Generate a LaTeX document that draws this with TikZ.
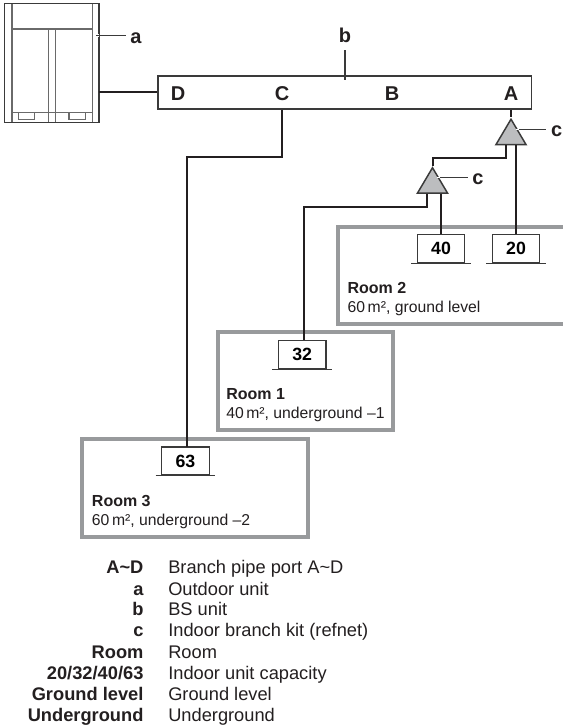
\documentclass[tikz,border=0pt]{standalone}
\usepackage{fontspec}
\setmainfont{Liberation Sans}
\usetikzlibrary{shapes.geometric}
\definecolor{ink}{HTML}{231F20}
\definecolor{edge}{HTML}{3A3A3A}
\definecolor{roomgray}{HTML}{989A9C}
\definecolor{kitgray}{HTML}{BCBDBF}
\definecolor{unitgray}{HTML}{6A6A6A}
\tikzset{
  x=0.75pt,y=-0.75pt,
  pipe/.style={draw=ink,line width=1.5pt},
  room/.style={draw=roomgray,line width=3pt},
  iu/.style={draw=edge,fill=white,line width=0.9pt,minimum width=35.6pt,minimum height=21pt,inner sep=0pt,font=\bfseries\fontsize{13.3}{15}\selectfont},
  base/.style={draw=edge,line width=0.9pt},
  port/.style={anchor=base,inner sep=0pt,font=\bfseries\fontsize{15}{18}\selectfont,text=ink},
  tag/.style={anchor=base,inner sep=0pt,font=\bfseries\fontsize{15}{18}\selectfont,text=ink},
  kit/.style={isosceles triangle,isosceles triangle stretches=true,shape border rotate=90,minimum height=19pt,minimum width=22.5pt,inner sep=0pt,draw=edge,fill=kitgray,line width=1.1pt},
  leader/.style={draw=edge,line width=0.9pt},
  halo/.style={draw=white,line width=2.2pt},
  roomhead/.style={anchor=base west,inner sep=0pt,font=\bfseries\fontsize{12}{14}\selectfont,text=ink},
  roomtext/.style={anchor=base west,inner sep=0pt,font=\fontsize{11.8}{14}\selectfont,text=ink},
  legkey/.style={anchor=base east,inner sep=0pt,font=\bfseries\fontsize{13.7}{16}\selectfont,text=ink},
  legval/.style={anchor=base west,inner sep=0pt,font=\fontsize{13.7}{16}\selectfont,text=ink},
  oucase/.style={draw=edge,line width=1.1pt},
  ouline/.style={draw=unitgray,line width=0.9pt},
}
\begin{document}
\begin{tikzpicture}
\path[use as bounding box,fill=white] (0,0) rectangle (562,728);
% rooms
\draw[room] (563,226.6) -- (338,226.6) -- (338,324) -- (563,324);
\draw[room] (217.5,332) rectangle (392.7,430);
\draw[room] (81.5,438.5) rectangle (308,536.7);
% outdoor unit
\node[draw=none,inner sep=0pt,minimum width=70.3pt,minimum height=88.7pt] (ou) at (51.85,62.85) {};
\draw[ouline] (12,3.7) -- (12,122) (92.3,3.7) -- (92.3,122) (12,29) -- (92.3,29)
  (48.7,29) -- (48.7,122) (55.3,29) -- (55.3,122) (12,112.3) -- (92.3,112.3)
  (18.3,112.3) rectangle (34.7,119.3) (69,112.3) rectangle (85.7,119.3);
\draw[oucase] (ou.south west) rectangle (ou.north east);
% BS unit
\node[draw=edge,fill=white,line width=1.1pt,inner sep=0pt,minimum width=280.1pt,minimum height=24.9pt] (bs) at (344.85,92.4) {};
\node[port] (portD) at (178,100) {D};
\node[port] (portC) at (282,100) {C};
\node[port] (portB) at (392,100) {B};
\node[port] (portA) at (511,100) {A};
% branch kits
\node[kit] (kitA) at (511,136) {};
\node[kit] (kitB) at (432.5,184.5) {};
% indoor units
\node[iu] (iu40) at (441,248.5) {40};
\node[iu] (iu20) at (516,248.5) {20};
\node[iu] (iu32) at (302.2,354.7) {32};
\node[iu] (iu63) at (185.5,461) {63};
\foreach \u in {iu40,iu20,iu32,iu63}
  \draw[base] ([xshift=-4.2pt]\u.south west) -- ([xshift=4.2pt]\u.south east);
% pipes
\draw[pipe] (ou.east |- bs.west) -- (bs.west);
\draw[pipe] (bs.south -| portC) -- (282,157) -- (187,157) -- (187,447);
\draw[pipe] (bs.south -| portA) -- (kitA.apex);
\draw[pipe] (506,145) -- (506,158) -- (kitB.apex |- 0,158) -- (kitB.apex);
\draw[pipe] (426.5,193.5) -- (426.5,207) -- (304,207) -- (iu32.north -| 304,0);
\draw[pipe] (441,193.5) -- (iu40.north);
\draw[pipe] (516,145) -- (iu20.north);
% leaders
\draw[halo] (93,35.5) -- (99,35.5);
\draw[leader] (96,35.5) -- (125.5,35.5);
\node[tag] (taga) at (136,43.3) {a};
\draw[halo] (345,71) -- (345,80);
\draw[leader] (345,50) -- (345,79.5);
\node[tag] (tagb) at (345,42.7) {b};
\draw[leader] (516,129.3) -- (546,129.3);
\draw[draw=white,line width=0.9pt] (516,129.3) -- (519,129.3);
\node[tag] (tagc1) at (556.7,136.7) {c};
\draw[leader] (437.3,177.7) -- (468,177.7);
\draw[draw=white,line width=0.9pt] (437.3,177.7) -- (440.3,177.7);
\node[tag] (tagc2) at (478,184.3) {c};
% room texts
\node[roomhead] (r2a) at (347.3,293.3) {Room 2};
\node[roomtext] (r2b) at (347.3,312.7) {60\,m², ground level};
\node[roomhead] (r1a) at (226,399) {Room 1};
\node[roomtext] (r1b) at (226,418.3) {40\,m², underground –1};
\node[roomhead] (r3a) at (91.7,506) {Room 3};
\node[roomtext] (r3b) at (91.7,525.3) {60\,m², underground –2};
% legend
\node[legkey] (k1) at (143.7,573.3) {A\textasciitilde D};
\node[legval] (v1) at (168,573.3) {Branch pipe port A\textasciitilde D};
\node[legkey] (k2) at (143.7,595) {a};
\node[legval] (v2) at (168,595) {Outdoor unit};
\node[legkey] (k3) at (143.7,615.7) {b};
\node[legval] (v3) at (168,615.7) {BS unit};
\node[legkey] (k4) at (143.7,636.7) {c};
\node[legval] (v4) at (168,636.7) {Indoor branch kit (refnet)};
\node[legkey] (k5) at (143.7,658.3) {Room};
\node[legval] (v5) at (168,658.3) {Room};
\node[legkey] (k6) at (143.7,679.3) {20/32/40/63};
\node[legval] (v6) at (168,679.3) {Indoor unit capacity};
\node[legkey] (k7) at (143.7,700.7) {Ground level};
\node[legval] (v7) at (168,700.7) {Ground level};
\node[legkey] (k8) at (143.7,721.7) {Underground};
\node[legval] (v8) at (168,721.7) {Underground};
\end{tikzpicture}
\end{document}
